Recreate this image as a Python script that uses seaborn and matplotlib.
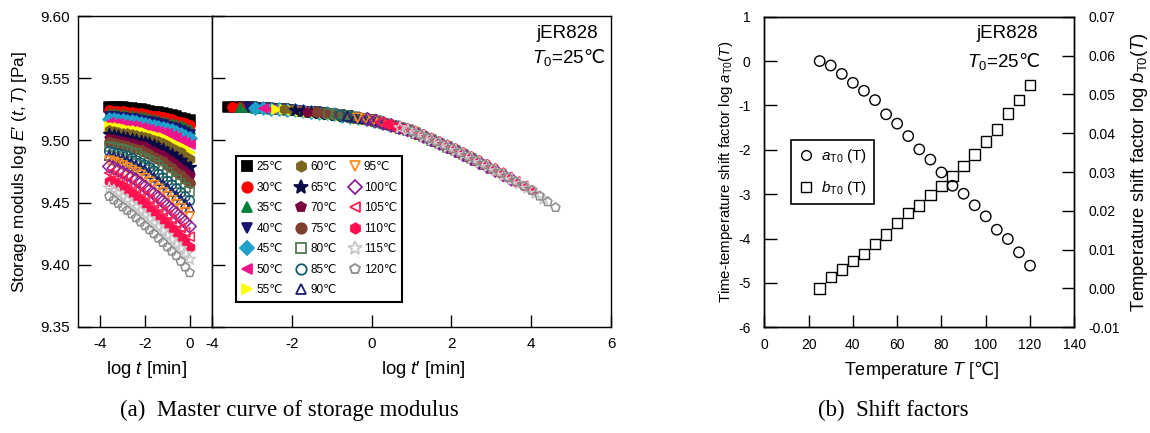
import numpy as np
import matplotlib
matplotlib.use("Agg")
import matplotlib.pyplot as plt
from matplotlib.lines import Line2D
import seaborn as sns

# ---------------- data ----------------
temps = [25, 30, 35, 40, 45, 50, 55, 60, 65, 70, 75, 80, 85, 90, 95, 100, 105, 110, 115, 120]
# shift factors
log_aT = [0.00, -0.10, -0.29, -0.49, -0.67, -0.88, -1.20, -1.41, -1.69, -1.99,
          -2.22, -2.51, -2.81, -2.99, -3.25, -3.50, -3.80, -4.01, -4.31, -4.61]
log_bT = [0.0000, 0.0029, 0.0049, 0.0070, 0.0089, 0.0115, 0.0139, 0.0168, 0.0194, 0.0214,
          0.0240, 0.0264, 0.0290, 0.0315, 0.0345, 0.0379, 0.0409, 0.0451, 0.0485, 0.0524]
# measurement times (log t, min)
log_t = [-3.6, -3.4, -3.2, -3.0, -2.8, -2.6, -2.4, -2.2, -2.0, -1.8,
         -1.6, -1.4, -1.2, -1.0, -0.8, -0.6, -0.4, -0.2, 0.0]
# master curve (a)
master_log_tp = [-3.7, -3.0, -2.0, -1.0, 0.0, 1.0, 2.0, 3.0, 4.0, 4.7]
master_log_E = [9.5272, 9.5265, 9.5245, 9.5212, 9.5165, 9.5075, 9.4935, 9.4775, 9.4600, 9.4440]

labels = [f"{T}\u2103" for T in temps]
colors = ["#000000", "#ff0000", "#00803a", "#16166e", "#1fa0cc", "#f0148c", "#ffff00",
          "#7a6420", "#0a0a46", "#7a0040", "#804030", "#4f7a4f", "#145a6e", "#1e1e6e",
          "#ff8c1e", "#8c1e96", "#ff1e50", "#ff1050", "#c8c8c8", "#8c8c8c"]
markers = ["s", "o", "^", "v", "D", "<", ">", "h", "*", "p", "o",
           "s", "o", "^", "v", "D", "<", "h", "*", "p"]
filled = [True] * 11 + [False] * 6 + [True] + [False] * 2

# ---------------- style ----------------
sns.set_style("ticks")
plt.rcParams.update({
    "font.family": ["Liberation Sans", "DejaVu Sans"],
    "mathtext.fontset": "custom",
    "mathtext.rm": "Liberation Sans",
    "mathtext.it": "Liberation Sans:italic",
    "mathtext.bf": "Liberation Sans:bold",
    "mathtext.sf": "DejaVu Sans",
    "mathtext.fallback": "stixsans",
    "axes.unicode_minus": False,
    "axes.edgecolor": "black",
    "axes.linewidth": 1.0,
    "xtick.color": "black",
    "ytick.color": "black",
    "text.color": "black",
    "axes.labelcolor": "black",
})

W, H = 1150, 433
fig = plt.figure(figsize=(W / 100, H / 100), dpi=100)


def rect(x0, y0, x1, y1):
    return [x0 / W, 1 - y1 / H, (x1 - x0) / W, (y1 - y0) / H]


ax1 = fig.add_axes(rect(78, 16, 212, 327))
ax2 = fig.add_axes(rect(212, 16, 611, 327))
axb = fig.add_axes(rect(764.3, 16.7, 1074.3, 327.3))
axb2 = axb.twinx()

DEG = "$\\mathsf{\u2103}$"

# ---------------- panel (a) ----------------
log_t_arr = np.array(log_t)
for i, T in enumerate(temps):
    E = np.interp(log_t_arr - log_aT[i], master_log_tp, master_log_E) - log_bT[i]
    s = 44 if markers[i] != "*" else 78
    kw = dict(marker=markers[i], s=s, linewidth=1.1, color=colors[i], edgecolor=colors[i], legend=False)
    if not filled[i]:
        kw["facecolor"] = "none"
    sns.scatterplot(x=log_t_arr, y=E, ax=ax1, zorder=3, **kw)
    sns.scatterplot(x=log_t_arr - log_aT[i], y=E + log_bT[i], ax=ax2, zorder=3, **kw)

for ax in (ax1, ax2):
    ax.set_ylim(9.35, 9.60)
    ax.set_yticks([9.35, 9.40, 9.45, 9.50, 9.55, 9.60])
    ax.tick_params(direction="in", length=9, width=1.0, labelsize=11,
                   top=False, right=False)
    ax.tick_params(axis="x", pad=7)
    ax.tick_params(axis="y", pad=6)
    for sp in ax.spines.values():
        sp.set_visible(True)
        sp.set_color("black")
        sp.set_linewidth(1.0)

ax1.set_xlim(-5, 1)
ax1.set_xticks([-4, -2, 0])
ax1.set_yticklabels(["9.35", "9.40", "9.45", "9.50", "9.55", "9.60"])
ax2.set_xlim(-4, 6)
ax2.set_xticks([-4, -2, 0, 2, 4, 6])
ax2.tick_params(axis="y", labelleft=False)

ax1.set_xlabel("log $t$ [min]", fontsize=13.3)
ax1.xaxis.label.set_va("center")
ax1.xaxis.set_label_coords((146 - 78) / 134, -(370 - 327) / 311)
ax2.set_xlabel("log $t$\u2032 [min]", fontsize=13.3)
ax2.xaxis.label.set_va("center")
ax2.xaxis.set_label_coords((423 - 212) / 399, -(369 - 327) / 311)
ax1.set_ylabel("Storage moduls log $E$\u2032 $(t, T)$ [Pa]", fontsize=12.3)
ax1.yaxis.label.set_va("center")
ax1.yaxis.set_label_coords((20 - 78) / 134, 0.497)

handles = []
for i in range(len(temps)):
    handles.append(Line2D([], [], linestyle="none", marker=markers[i],
                          markersize=7.5 if markers[i] != "*" else 10,
                          markerfacecolor=colors[i] if filled[i] else "none",
                          markeredgecolor=colors[i], markeredgewidth=1.3))
leg = ax2.legend(handles=handles, labels=labels, ncol=3, loc="upper left",
                 bbox_to_anchor=((236 - 212) / 399, (327 - 156) / 311),
                 frameon=True, fancybox=False, edgecolor="black", framealpha=1,
                 prop={"family": ["Liberation Sans", "DejaVu Sans"], "size": 8.5},
                 handlelength=1.0, handletextpad=0.3, columnspacing=1.0,
                 labelspacing=0.72, borderpad=0.45, borderaxespad=0)
leg.get_frame().set_linewidth(1.5)

# ---------------- panel (b) ----------------
sns.scatterplot(x=temps, y=log_aT, ax=axb, marker="o", s=56, color="black",
                facecolor="none", edgecolor="black", linewidth=1.0, legend=False, zorder=3)
sns.scatterplot(x=temps, y=log_bT, ax=axb2, marker="s", s=56, color="black",
                facecolor="none", edgecolor="black", linewidth=1.0, legend=False, zorder=3)

axb.set_xlim(0, 140)
axb.set_xticks([0, 20, 40, 60, 80, 100, 120, 140])
axb.set_ylim(-6, 1)
axb.set_yticks([-6, -5, -4, -3, -2, -1, 0, 1])
axb2.set_ylim(-0.01, 0.07)
bticks = [-0.01, 0.00, 0.01, 0.02, 0.03, 0.04, 0.05, 0.06, 0.07]
axb2.set_yticks(bticks)
axb2.set_yticklabels([f"{v:.2f}" for v in bticks])
axb.tick_params(direction="in", length=9, width=1.0, labelsize=10, top=False, right=False)
axb.tick_params(axis="x", pad=8)
axb.tick_params(axis="y", pad=10)
axb2.tick_params(direction="in", length=9, width=1.0, labelsize=10, pad=10)
for a in (axb, axb2):
    for sp in a.spines.values():
        sp.set_visible(True)
        sp.set_color("black")
        sp.set_linewidth(1.0)

axb.set_xlabel("Temperature $T$ [" + DEG + "]", fontsize=13)
axb.xaxis.label.set_va("center")
axb.xaxis.set_label_coords((921.7 - 764.3) / 310, -(370 - 327.3) / 310.6)
axb.set_ylabel(r"Time-temperature shift factor log $a_{\mathrm{T0}}(T)$", fontsize=10.8)
axb.yaxis.label.set_va("center")
axb.yaxis.set_label_coords((726 - 764.3) / 310, 0.5)
axb2.set_ylabel(r"Temperature shift factor log $b_{\mathrm{T0}}(T)$", fontsize=13.2, rotation=90)
axb2.yaxis.label.set_va("center")
axb2.yaxis.set_label_coords((1140 - 764.3) / 310, (327.3 - 172) / 310.6)

hb = [Line2D([], [], linestyle="none", marker="o", markersize=7, markerfacecolor="none",
             markeredgecolor="black", markeredgewidth=1.0),
      Line2D([], [], linestyle="none", marker="s", markersize=7, markerfacecolor="none",
             markeredgecolor="black", markeredgewidth=1.0)]
legb = axb2.legend(handles=hb, labels=[r"$a_{\mathrm{T0}}$ (T)", r"$b_{\mathrm{T0}}$ (T)"],
                   loc="upper left", bbox_to_anchor=((791 - 764.3) / 310, (327.3 - 140) / 310.6),
                   frameon=True, fancybox=False, edgecolor="black", framealpha=1,
                   fontsize=11, handlelength=1.0, handletextpad=0.5, labelspacing=0.95,
                   borderpad=0.45, borderaxespad=0)
legb.get_frame().set_linewidth(1.2)

# ---------------- annotations ----------------
ANN_FS = 13.5
fig.text(598 / W, 1 - 33 / H, "jER828", ha="right", va="center", fontsize=ANN_FS)
fig.text(605 / W, 1 - 57 / H, "$T_0$=25" + DEG, ha="right", va="center", fontsize=ANN_FS)
fig.text(1038 / W, 1 - 33 / H, "jER828", ha="right", va="center", fontsize=ANN_FS)
fig.text(1040 / W, 1 - 61 / H, "$T_0$=25" + DEG, ha="right", va="center", fontsize=ANN_FS)

fig.text(120 / W, 1 - 410 / H, "(a)  Master curve of storage modulus", ha="left", va="center",
         fontsize=16.5, family="Liberation Serif")
fig.text(818 / W, 1 - 410 / H, "(b)  Shift factors", ha="left", va="center",
         fontsize=16.5, family="Liberation Serif")

fig.savefig("out.png", dpi=100)
